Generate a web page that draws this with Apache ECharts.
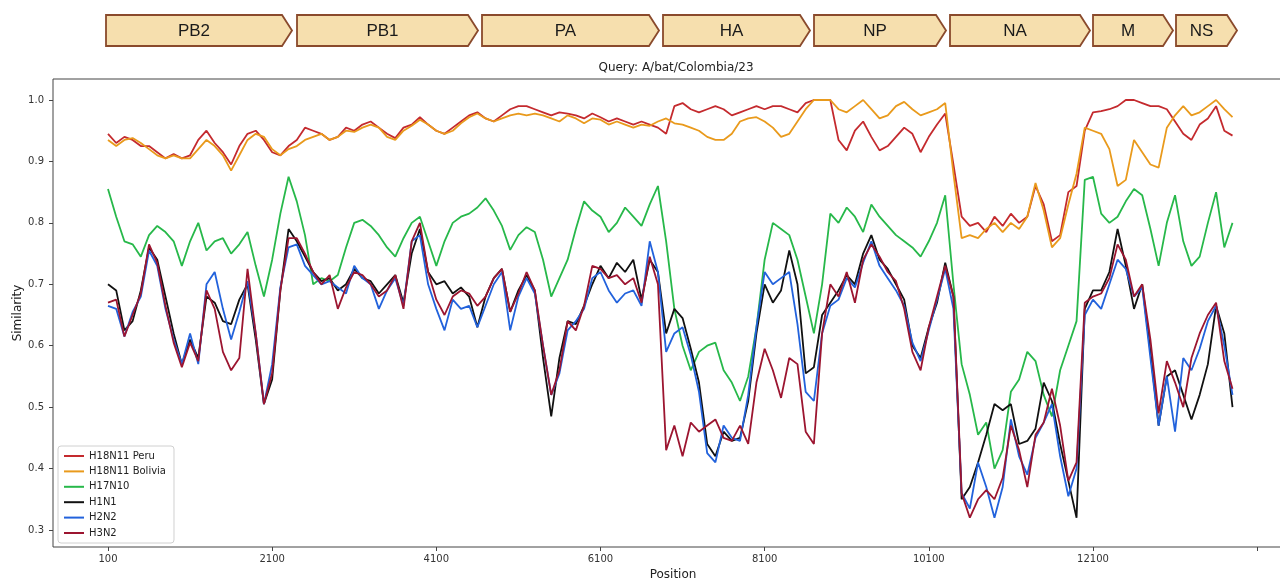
<!DOCTYPE html>
<html>
<head>
<meta charset="utf-8">
<script src="https://cdn.jsdelivr.net/npm/echarts@6/dist/echarts.min.js"></script>
<style>html,body{margin:0;padding:0;background:#fff}#c{width:1280px;height:580px}</style>
</head>
<body>
<div id="c"></div>
<script>
// ---------- data ----------
const positions = [100,200,300,400,500,600,700,800,900,1000,1100,1200,1300,1400,1500,1600,1700,1800,1900,2000,
2100,2200,2300,2400,2500,2600,2700,2800,2900,3000,3100,3200,3300,3400,3500,3600,3700,3800,3900,4000,
4100,4200,4300,4400,4500,4600,4700,4800,4900,5000,5100,5200,5300,5400,5500,5600,5700,5800,5900,6000,
6100,6200,6300,6400,6500,6600,6700,6800,6900,7000,7100,7200,7300,7400,7500,7600,7700,7800,7900,8000,
8100,8200,8300,8400,8500,8600,8700,8800,8900,9000,9100,9200,9300,9400,9500,9600,9700,9800,9900,10000,
10100,10200,10300,10400,10500,10600,10700,10800,10900,11000,11100,11200,11300,11400,11500,11600,11700,11800,11900,12000,
12100,12200,12300,12400,12500,12600,12700,12800,12900,13000,13100,13200,13300,13400,13500,13600,13700,13800];

const peru = [.945,.930,.940,.935,.925,.925,.915,.905,.912,.905,.910,.935,.950,.930,.915,.895,.925,.945,.950,.935,.915,.910,.925,.935,.955,.950,.945,.935,.940,.955,.950,.960,.965,.955,.945,.938,.955,.960,.972,.960,.950,.945,.955,.965,.975,.980,.970,.965,.975,
.985,.990,.990,.985,.980,.975,.980,.978,.975,.970,.978,.972,.965,.970,.965,.960,.965,.960,.955,.945,
.990,.995,.985,.980,.985,.990,.985,.975,.980,.985,.990,.985,.990,.990,.985,.980,.995,1.0,1.0,1.0,
.935,.918,.950,.965,.940,.918,.925,.940,.955,.945,.915,.940,.960,.978,.895,
.810,.795,.800,.785,.810,.795,.815,.800,.810,.860,.830,.770,.780,.850,.860,.950,.980,
.982,.985,.990,1.0,1.0,.995,.990,.990,.985,.965,.945,.935,.960,.970,.990,.950,.942];

const bolivia = [.935,.925,.935,.938,.930,.920,.910,.905,.910,.905,.905,.920,.935,.925,.910,.885,.910,.935,.945,.940,.920,.910,.920,.925,.935,.940,.945,.935,.940,.950,.948,.955,.960,.955,.940,.935,.950,.958,.968,.960,.950,.945,.950,.962,.972,.978,.970,.965,.970,
.975,.978,.975,.978,.975,.970,.965,.975,.970,.962,.970,.968,.960,.965,.960,.955,.960,.958,.965,.970,
.962,.960,.955,.950,.940,.935,.935,.945,.965,.970,.972,.965,.955,.940,.945,.965,.985,1.0,1.0,1.0,
.985,.980,.990,1.0,.985,.970,.975,.990,.997,.985,.975,.980,.985,.995,.880,
.775,.780,.775,.790,.800,.785,.800,.790,.810,.865,.820,.760,.775,.830,.880,.955,.950,
.945,.920,.860,.870,.935,.915,.895,.890,.955,.975,.990,.975,.980,.990,1.0,.985,.972];

const h17n10 = [.855,.81,.77,.765,.745,.78,.795,.785,.77,.73,.77,.80,.755,.77,.775,.75,.765,.785,.73,.68,.74,.815,.875,.835,.78,.70,.71,.705,.715,.76,.80,.805,.795,.78,.76,.745,.775,.80,.81,.77,.73,.77,.80,.81,.815,.825,.84,.82,.795,
.756,.78,.793,.785,.74,.68,.71,.74,.79,.835,.82,.81,.785,.80,.825,.81,.795,.83,.86,.77,
.66,.60,.56,.59,.60,.605,.56,.54,.51,.55,.63,.74,.80,.79,.78,.74,.68,.62,.70,.815,
.80,.825,.81,.785,.83,.81,.795,.78,.77,.76,.745,.77,.80,.845,.70,
.57,.52,.455,.475,.40,.43,.525,.545,.59,.575,.52,.485,.56,.60,.64,.87,.875,
.815,.80,.81,.835,.855,.845,.79,.73,.80,.845,.77,.73,.745,.80,.85,.76,.80];

const h1n1 = [.70,.69,.625,.64,.69,.76,.74,.68,.62,.57,.61,.58,.68,.67,.64,.635,.675,.70,.61,.505,.545,.69,.79,.77,.745,.72,.705,.71,.69,.70,.725,.71,.705,.685,.70,.715,.67,.75,.79,.72,.70,.705,.685,.695,.68,.63,.68,.71,.725,
.655,.69,.715,.69,.58,.485,.58,.64,.635,.665,.70,.73,.71,.735,.72,.74,.675,.74,.72,.62,
.66,.645,.595,.54,.44,.42,.46,.445,.45,.51,.62,.70,.67,.69,.755,.70,.555,.565,.65,.67,
.69,.715,.70,.75,.78,.74,.725,.70,.675,.60,.58,.63,.67,.735,.68,
.35,.37,.41,.455,.505,.495,.505,.44,.445,.465,.54,.51,.44,.38,.32,.66,.69,
.69,.72,.79,.73,.66,.70,.59,.47,.55,.56,.52,.48,.52,.57,.665,.62,.50];

const h2n2 = [.665,.66,.615,.655,.68,.755,.73,.66,.61,.57,.62,.57,.70,.72,.66,.61,.655,.705,.62,.505,.57,.695,.76,.765,.73,.715,.70,.705,.695,.685,.73,.71,.70,.66,.69,.71,.665,.77,.78,.70,.66,.625,.675,.66,.665,.63,.665,.70,.72,
.625,.68,.71,.685,.60,.52,.555,.625,.64,.66,.71,.72,.69,.67,.685,.69,.665,.77,.72,.59,
.62,.63,.585,.525,.425,.41,.47,.45,.445,.52,.63,.72,.70,.71,.72,.635,.525,.51,.62,.665,
.675,.71,.695,.735,.77,.73,.71,.69,.665,.605,.575,.625,.675,.725,.66,
.36,.335,.41,.37,.32,.37,.48,.42,.39,.45,.475,.505,.42,.355,.40,.65,.675,
.66,.70,.74,.725,.68,.695,.58,.47,.55,.46,.58,.56,.595,.64,.665,.60,.52];

const h3n2 = [.67,.675,.615,.65,.685,.765,.735,.665,.605,.565,.605,.575,.69,.66,.59,.56,.58,.725,.62,.505,.555,.69,.775,.775,.75,.72,.70,.715,.66,.695,.72,.715,.70,.68,.69,.715,.66,.77,.80,.72,.675,.65,.68,.69,.685,.665,.68,.71,.725,
.655,.685,.72,.69,.60,.52,.56,.64,.625,.665,.73,.725,.71,.715,.70,.71,.67,.745,.70,.43,
.47,.42,.475,.46,.47,.48,.45,.445,.47,.44,.54,.595,.56,.515,.58,.57,.46,.44,.62,.70,
.68,.72,.67,.74,.765,.745,.72,.705,.66,.59,.56,.63,.68,.73,.68,
.36,.32,.35,.365,.35,.385,.47,.43,.37,.455,.475,.53,.47,.38,.41,.67,.68,
.685,.71,.765,.74,.68,.70,.61,.49,.575,.54,.50,.58,.62,.65,.67,.575,.53];

const seriesNames = ['H18N11 Peru','H18N11 Bolivia','H17N10','H1N1','H2N2','H3N2'];
const seriesValues = [peru, bolivia, h17n10, h1n1, h2n2, h3n2];
const xTickValues = [100,2100,4100,6100,8100,10100,12100,14100];
const xLabelValues = [100,2100,4100,6100,8100,10100,12100];
const yTickValues = [0.3,0.4,0.5,0.6,0.7,0.8,0.9,1.0];
const genes = ['PB2','PB1','PA','HA','NP','NA','M','NS'];

// ---------- layout / style ----------
const colors = ['#c42a2e','#e99a1c','#27b84a','#111111','#2262dc','#9c1530'];
const geneBoxPx = [[106,292],[297,478],[482,659],[663,810],[814,946],[950,1090],[1093,1173],[1176,1237]];
const FONT = 'DejaVu Sans';

const chart = echarts.init(document.getElementById('c'));
const graphic = [];
genes.forEach((g, i) => {
  const [x0, x1] = geneBoxPx[i];
  const top = 15, bot = 46, mid = (top + bot) / 2, d = 10;
  graphic.push({
    type: 'polygon',
    shape: { points: [[x0, top], [x1 - d, top], [x1, mid], [x1 - d, bot], [x0, bot]] },
    style: { fill: '#f6dfae', stroke: '#8a4a2c', lineWidth: 1.8 }
  });
  graphic.push({
    type: 'text',
    x: (x0 + x1 - d) / 2, y: mid + 1,
    style: { text: g, fill: '#1a1a1a', font: '17px "Liberation Sans Narrow", "Liberation Sans", Roboto, sans-serif',
             textAlign: 'center', textVerticalAlign: 'middle' }
  });
});
graphic.push({
  type: 'text', x: 676, y: 68,
  style: { text: 'Query: A/bat/Colombia/23', fill: '#222', font: '12px "DejaVu Sans"', textAlign: 'center', textVerticalAlign: 'middle' }
});
graphic.push({
  type: 'text', x: 18, y: 313, rotation: Math.PI / 2,
  style: { text: 'Similarity', fill: '#222', font: '12px "DejaVu Sans"', textAlign: 'center', textVerticalAlign: 'middle' }
});

chart.setOption({
  animation: false,
  backgroundColor: '#fff',
  graphic: graphic,
  grid: { left: 53, top: 79, width: 1240, height: 468, outerBoundsMode: 'none', containLabel: false,
          show: true, borderColor: '#444', borderWidth: 1, backgroundColor: 'transparent' },
  legend: {
    orient: 'vertical', left: 58, top: 446,
    icon: 'rect', itemWidth: 20, itemHeight: 2, itemGap: 5.4,
    padding: [5, 8, 5, 6],
    backgroundColor: '#fff', borderColor: '#d0d0d0', borderWidth: 1, borderRadius: 3,
    textStyle: { fontFamily: FONT, fontSize: 10, color: '#222', lineHeight: 10 },
    data: seriesNames
  },
  xAxis: {
    type: 'value', min: -570, max: 14537,
    name: 'Position', nameLocation: 'middle', nameGap: 21,
    nameTextStyle: { fontFamily: FONT, fontSize: 12, color: '#222' },
    axisLine: { show: false, onZero: false },
    splitLine: { show: false },
    axisTick: { show: true, customValues: xTickValues, length: 4, lineStyle: { color: '#444' } },
    axisLabel: { customValues: xLabelValues, fontFamily: FONT, fontSize: 10, color: '#333', margin: 7,
                 formatter: v => String(v) }
  },
  yAxis: {
    type: 'value', min: 0.2723, max: 1.0342,
    axisLine: { show: false, onZero: false },
    splitLine: { show: false },
    axisTick: { show: true, customValues: yTickValues, length: 4, lineStyle: { color: '#444' } },
    axisLabel: { customValues: yTickValues, fontFamily: FONT, fontSize: 10, color: '#333', margin: 9,
                 formatter: v => v.toFixed(1) }
  },
  series: seriesNames.map((name, k) => ({
    name: name,
    type: 'line',
    showSymbol: false,
    symbol: 'none',
    color: colors[k],
    lineStyle: { width: 1.8, color: colors[k] },
    z: 2 + k,
    data: positions.map((p, i) => [p, seriesValues[k][i]])
  }))
});
</script>
</body>
</html>
